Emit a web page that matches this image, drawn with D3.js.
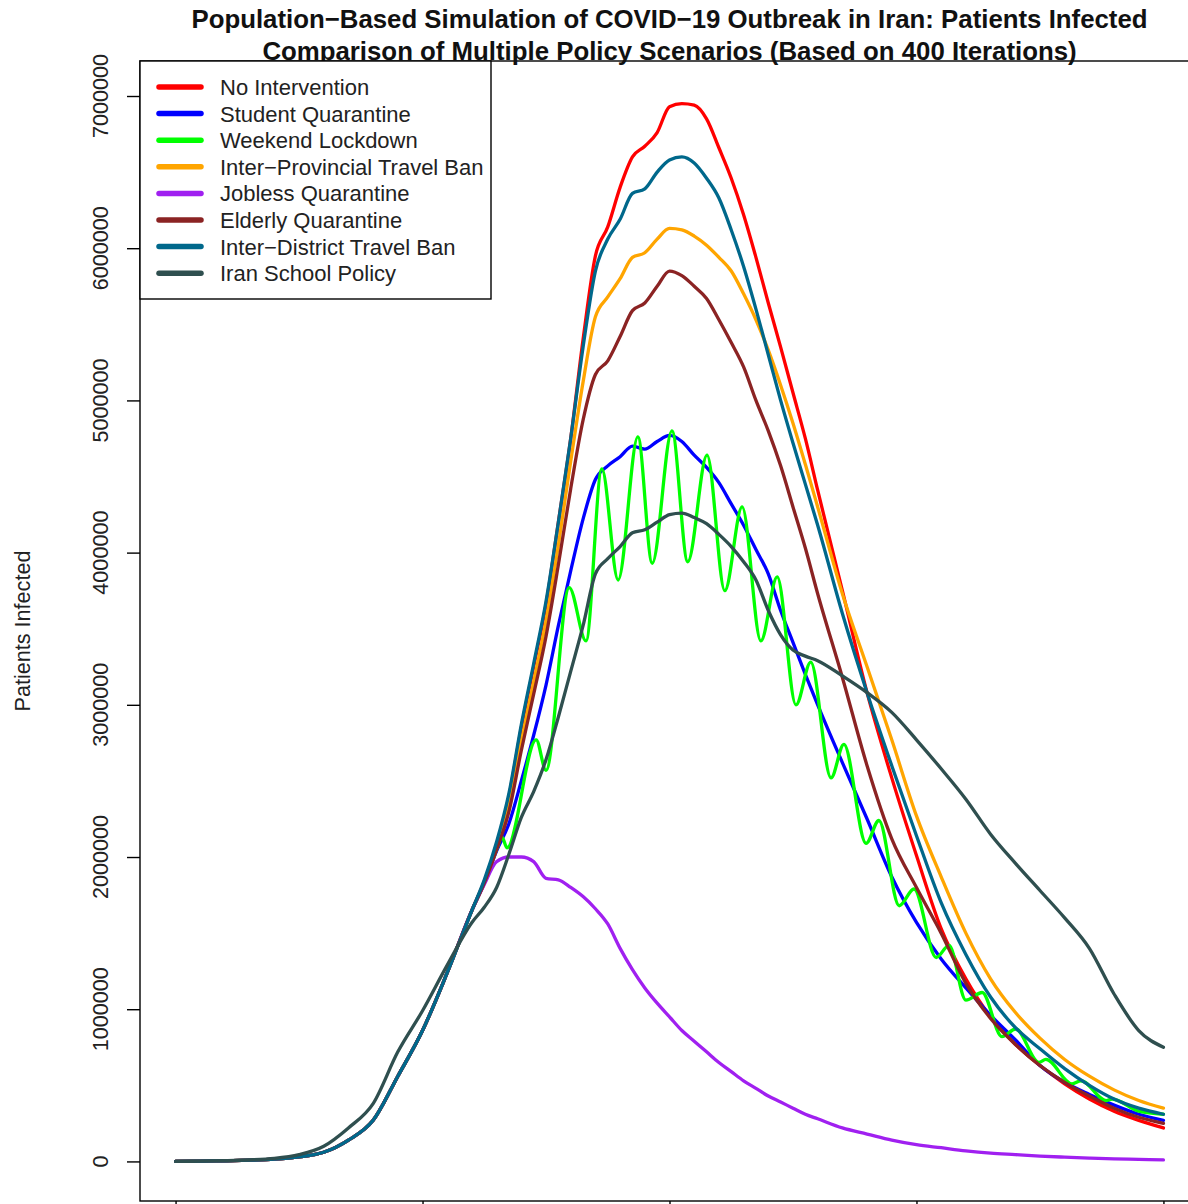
<!DOCTYPE html>
<html lang="en">
  <head>
    <meta charset="utf-8">
    <title>COVID-19 Iran policy scenarios</title>
    <style>
      body { margin: 0; background: #fff; }
      svg { display: block; font-family: "Liberation Sans", Arial, sans-serif; }
    </style>
  </head>
  <body>
    <svg width="1188" height="1204"></svg>
    <script src="https://d3js.org/d3.v7.min.js"></script>
    <script>

      // days of the simulation (shared grid for the smooth series)
      const days = [0, 5, 10, 15, 20, 25, 30, 35, 40, 45, 50, 55, 60,
        62.5, 65, 67.5, 70, 72.5, 75, 77.5, 80, 82.5, 85, 87.5, 90, 92.5, 95, 97.5, 100,
        102.5, 105, 107.5, 110, 112.5, 115, 117.5, 120, 122.5, 125, 127.5, 130,
        135, 140, 145, 150, 155, 160, 165, 170, 175, 180, 185, 190, 195, 200]

      // patients infected, in millions
      const early = [0, 0.002, 0.004, 0.008, 0.015, 0.03, 0.06, 0.14, 0.27, 0.56, 0.86, 1.24, 1.65]

      const noIntervention = early.concat([1.84, 2.08, 2.4, 2.85, 3.25, 3.66, 4.2, 4.75, 5.4, 5.95, 6.14, 6.4, 6.6, 6.67, 6.76, 6.93,
        6.95, 6.94, 6.85, 6.66, 6.46, 6.22, 5.94, 5.64, 5.35, 5.05, 4.75, 4.41,
        3.75, 3.08, 2.52, 2.01, 1.53, 1.2, 0.95, 0.77, 0.63, 0.51, 0.41, 0.33, 0.27, 0.22])

      const studentQuarantine = early.concat([1.83, 2.04, 2.22, 2.5, 2.8, 3.13, 3.52, 3.88, 4.22, 4.48, 4.57, 4.63, 4.7, 4.68, 4.73, 4.77,
        4.73, 4.64, 4.56, 4.46, 4.32, 4.18, 4.02, 3.86, 3.62, 3.41, 3.2, 3.0,
        2.62, 2.25, 1.87, 1.57, 1.33, 1.14, 0.96, 0.8, 0.63, 0.52, 0.44, 0.37, 0.31, 0.27])

      const travelBanProvincial = early.concat([1.83, 2.06, 2.34, 2.76, 3.15, 3.55, 4.05, 4.6, 5.12, 5.55, 5.68, 5.8, 5.94, 5.97, 6.06, 6.13,
        6.12, 6.08, 6.02, 5.94, 5.85, 5.7, 5.53, 5.33, 5.1, 4.85, 4.58, 4.3,
        3.73, 3.25, 2.77, 2.27, 1.87, 1.5, 1.2, 0.98, 0.81, 0.67, 0.56, 0.47, 0.4, 0.35])

      const joblessQuarantine = early.concat([1.82, 1.97, 2.0, 2.0, 1.97, 1.86, 1.85, 1.8, 1.74, 1.66, 1.56, 1.4, 1.26, 1.14, 1.04, 0.95,
        0.86, 0.79, 0.72, 0.65, 0.59, 0.53, 0.48, 0.43, 0.39, 0.35, 0.31, 0.28,
        0.22, 0.18, 0.14, 0.11, 0.09, 0.07, 0.055, 0.045, 0.035, 0.028, 0.022, 0.017, 0.013, 0.01])

      const elderlyQuarantine = early.concat([1.83, 2.05, 2.3, 2.7, 3.07, 3.45, 3.92, 4.42, 4.87, 5.17, 5.26, 5.42, 5.59, 5.64, 5.75, 5.85,
        5.82, 5.75, 5.67, 5.53, 5.38, 5.22, 5.0, 4.8, 4.57, 4.3, 4.03, 3.73,
        3.18, 2.6, 2.12, 1.8, 1.5, 1.17, 0.94, 0.77, 0.63, 0.52, 0.43, 0.35, 0.29, 0.25])

      const travelBanDistrict = early.concat([1.85, 2.1, 2.42, 2.87, 3.27, 3.68, 4.2, 4.75, 5.35, 5.85, 6.06, 6.19, 6.36, 6.39, 6.5, 6.58,
        6.6, 6.56, 6.46, 6.33, 6.12, 5.88, 5.6, 5.3, 5.0, 4.72, 4.45, 4.18,
        3.6, 3.08, 2.6, 2.14, 1.7, 1.36, 1.08, 0.88, 0.74, 0.61, 0.5, 0.41, 0.35, 0.31])

      const iranSchoolPolicy = [0, 0.002, 0.005, 0.01, 0.02, 0.045, 0.1, 0.22, 0.38, 0.72, 0.99, 1.29, 1.57,
        1.67, 1.8, 2.02, 2.26, 2.43, 2.64, 2.92, 3.22, 3.52, 3.86, 3.96, 4.04, 4.13, 4.15, 4.2, 4.25,
        4.26, 4.23, 4.19, 4.12, 4.04, 3.94, 3.82, 3.62, 3.46, 3.36, 3.32, 3.29,
        3.19, 3.08, 2.95, 2.77, 2.58, 2.38, 2.15, 1.96, 1.78, 1.6, 1.4, 1.1, 0.86, 0.75]

      // weekend lockdown swings weekly, so it has its own days (peaks and troughs)
      const lockdownDays = [0, 5, 10, 15, 20, 25, 30, 35, 40, 45, 50, 55, 60, 62.5, 65, 66.1, 67.1,
        73, 75, 79.7, 83.1, 86.3, 89.6, 93.6, 96.5, 100.5, 103.7, 107.6, 111.2, 114.7, 118.5,
        121.8, 125.6, 128.6, 132.7, 135.3, 139.8, 142.4, 146.5, 149.5, 154, 156.6, 160,
        163.3, 167.3, 170.1, 174.8, 176.2, 181.5, 183.3, 188.4, 189.6, 195, 200]
      const weekendLockdown = early.concat([1.83, 2.05, 2.13, 2.06,
        2.77, 2.57, 3.77, 3.42, 4.55, 3.82, 4.76, 3.93, 4.8, 3.94, 4.64, 3.75, 4.3, 3.42,
        3.84, 3.0, 3.28, 2.52, 2.74, 2.09, 2.24, 1.68, 1.79, 1.34, 1.42, 1.06,
        1.11, 0.82, 0.87, 0.65, 0.67, 0.51, 0.53, 0.4, 0.41, 0.33, 0.31])

      const series = [
        {name: "No Intervention", color: "#FF0000", x: days, y: noIntervention},
        {name: "Student Quarantine", color: "#0000FF", x: days, y: studentQuarantine},
        {name: "Weekend Lockdown", color: "#00FF00", x: lockdownDays, y: weekendLockdown},
        {name: "Inter\u2212Provincial Travel Ban", color: "#FFA500", x: days, y: travelBanProvincial},
        {name: "Jobless Quarantine", color: "#A020F0", x: days, y: joblessQuarantine},
        {name: "Elderly Quarantine", color: "#8B2323", x: days, y: elderlyQuarantine},
        {name: "Inter\u2212District Travel Ban", color: "#00688B", x: days, y: travelBanDistrict},
        {name: "Iran School Policy", color: "#2F4F4F", x: days, y: iranSchoolPolicy}
      ]

      const xTicks = [0, 50, 100, 150, 200]
      const yTicks = [0, 1, 2, 3, 4, 5, 6, 7]

      // plot frame (right edge runs off the picture like the original)
      const frame = {left: 140, top: 61, right: 1199, bottom: 1201}

      const x = d3.scaleLinear().domain([-7.2, 207.2]).range([frame.left, frame.right])
      const y = d3.scaleLinear().domain([-0.26, 7.23]).range([frame.bottom, frame.top])

      const svg = d3.select("svg")

      // curves
      const line = d3.line()
        .x(function(d) { return x(d[0]) })
        .y(function(d) { return y(d[1]) })
        .curve(d3.curveMonotoneX)

      svg.append("g").selectAll("path")
        .data(series)
        .enter().append("path")
          .attr("d", function(s) { return line(s.x.map(function(v, i) { return [v, s.y[i]] })) })
          .attr("fill", "none")
          .attr("stroke", function(s) { return s.color })
          .attr("stroke-width", 3.3)
          .attr("stroke-linejoin", "round")
          .attr("stroke-linecap", "round")

      // box
      svg.append("rect")
        .attr("x", frame.left).attr("y", frame.top)
        .attr("width", frame.right - frame.left).attr("height", frame.bottom - frame.top)
        .attr("fill", "none").attr("stroke", "#000").attr("stroke-width", 1.4)

      // y axis
      const yAxis = svg.append("g")
        .attr("transform", "translate(" + frame.left + ",0)")
        .call(d3.axisLeft(y).tickValues(yTicks).tickSize(13).tickFormat(""))
      yAxis.select(".domain").remove()
      yAxis.selectAll("line").attr("stroke-width", 1.4)

      svg.append("g").selectAll("text")
        .data(yTicks)
        .enter().append("text")
          .attr("transform", function(d) { return "translate(108," + y(d) + ") rotate(-90)" })
          .attr("text-anchor", "middle")
          .attr("font-size", 21.6)
          .attr("fill", "#222")
          .text(function(d) { return d3.format("d")(d * 1e6) })

      // x axis ticks (labels fall below the picture)
      const xAxis = svg.append("g")
        .attr("transform", "translate(0," + frame.bottom + ")")
        .call(d3.axisBottom(x).tickValues(xTicks).tickSize(13).tickFormat(""))
      xAxis.select(".domain").remove()
      xAxis.selectAll("line").attr("stroke-width", 1.4)

      svg.append("text")
        .attr("transform", "translate(30," + (frame.top + frame.bottom) / 2 + ") rotate(-90)")
        .attr("text-anchor", "middle")
        .attr("font-size", 21.6)
        .attr("fill", "#222")
        .text("Patients Infected")

      // title
      const titleLines = [
        "Population\u2212Based Simulation of COVID\u221219 Outbreak in Iran: Patients Infected",
        "Comparison of Multiple Policy Scenarios (Based on 400 Iterations)"
      ]
      const titleX = (frame.left + frame.right) / 2
      svg.append("g").selectAll("text")
        .data(titleLines)
        .enter().append("text")
          .attr("x", titleX)
          .attr("y", function(d, i) { return 28 + i * 31.5 })
          .attr("text-anchor", "middle")
          .attr("font-size", 25.8)
          .attr("font-weight", "bold")
          .attr("fill", "#111")
          .text(function(d) { return d })

      // legend
      const legend = svg.append("g")
      legend.append("rect")
        .attr("x", frame.left).attr("y", frame.top)
        .attr("width", 351).attr("height", 238)
        .attr("fill", "#fff").attr("stroke", "#000").attr("stroke-width", 1.4)

      const rows = legend.selectAll("g.row")
        .data(series)
        .enter().append("g")
          .attr("class", "row")
          .attr("transform", function(d, i) { return "translate(" + frame.left + "," + (87 + i * 26.6) + ")" })
      rows.append("line")
        .attr("x1", 19).attr("x2", 61)
        .attr("stroke", function(d) { return d.color })
        .attr("stroke-width", 5.5)
        .attr("stroke-linecap", "round")
      rows.append("text")
        .attr("x", 80)
        .attr("dy", "0.36em")
        .attr("font-size", 22)
        .attr("fill", "#222")
        .text(function(d) { return d.name })
    </script>
  </body>
</html>
